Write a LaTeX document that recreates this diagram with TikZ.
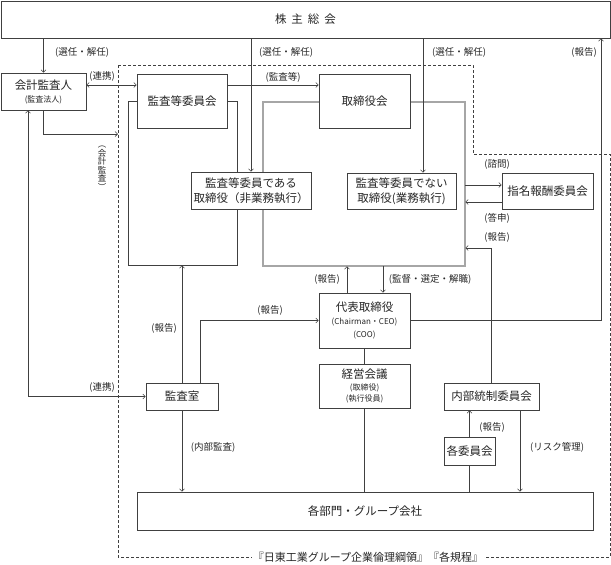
\documentclass[tikz,border=0pt]{standalone}
\usepackage{fontspec}
\setmainfont{Noto Sans CJK JP}
\usetikzlibrary{arrows.meta}

\newcommand{\smtxt}[1]{{\fontsize{8}{9}\selectfont #1}}

\begin{document}
\begin{tikzpicture}[
  x=1pt, y=-1pt,
  line width=0.6pt,
  every node/.style={font=\fontsize{11.5}{14}\selectfont, text=black!85},
  box/.style={draw=black!75, fill=white, align=center, inner sep=0pt},
  waku/.style={draw=black!75, inner sep=0pt},
  lbl/.style={font=\fontsize{9.5}{11}\selectfont, inner sep=1pt},
  conn/.style={draw=black!75},
  arr/.style={conn, -{Straight Barb[length=2.5pt,width=5pt]}},
  arrs/.style={conn, {Straight Barb[length=2.5pt,width=5pt]}-{Straight Barb[length=2.5pt,width=5pt]}}
]
\useasboundingbox (0,0) rectangle (611,565);

% outer dashed area
\draw[conn, dash pattern=on 3pt off 2pt] (118,65) -- (473,65) -- (473,154) -- (610,154)
  -- (610,557) -- (118,557) -- cycle;
\node[fill=white, inner sep=1pt, font=\fontsize{11}{13}\selectfont] (kitei) at (368,557)
  {『日東工業グループ企業倫理綱領』『各規程』};

% frames behind the boards
\node[waku, minimum width=109pt, minimum height=164pt] (iwaku) at (182.5,183) {};
\node[waku, draw=black!70, double=black!35, double distance=1.2pt,
  minimum width=202pt, minimum height=164pt] (twaku) at (364,184) {};

\node[box, minimum width=609pt, minimum height=37pt] (soukai) at (305.5,19.5)
  {株\hspace{5pt}主\hspace{5pt}総\hspace{5pt}会};
\node[box, minimum width=85pt, minimum height=37pt] (kaikei) at (43.5,91.5)
  {会計監査人\\[-1pt]\smtxt{(監査法人)}};
\node[box, minimum width=90pt, minimum height=54pt] (iinkai) at (182,101) {監査等委員会};
\node[box, minimum width=91pt, minimum height=54pt] (torishimari) at (364.5,101) {取締役会};
\node[box, minimum width=120pt, minimum height=37pt] (dokuritsu) at (251,190.5)
  {監査等委員である\\[1pt]取締役（非業務執行）};
\node[box, minimum width=109pt, minimum height=36pt] (gyomu) at (401.5,191)
  {監査等委員でない\\[1pt]取締役(業務執行)};
\node[box, minimum width=91pt, minimum height=36pt] (shimei) at (547.5,191) {指名報酬委員会};
\node[box, minimum width=91pt, minimum height=55pt] (daihyo) at (364.5,320.5)
  {代表取締役\\[-1pt]\smtxt{(Chairman・CEO)}\\[-1pt]\smtxt{(COO)}};
\node[box, minimum width=91pt, minimum height=44pt] (keiei) at (364.5,386)
  {経営会議\\[-2pt]\smtxt{(取締役)}\\[-3pt]\smtxt{(執行役員)}};
\node[box, minimum width=72pt, minimum height=27pt] (kansa) at (182,396.5) {監査室};
\node[box, minimum width=95pt, minimum height=27pt] (naibu) at (491.5,396.5) {内部統制委員会};
\node[box, minimum width=51pt, minimum height=28pt] (kaku) at (469.5,451) {各委員会};
\node[box, minimum width=456pt, minimum height=38pt] (bumon) at (365,511) {各部門・グループ会社};

% from the shareholders' meeting
\draw[arr] (soukai.south -| kaikei.north) -- (kaikei.north);
\draw[arr] (soukai.south -| dokuritsu.north) -- (dokuritsu.north);
\draw[arr] (soukai.south -| 423,0) -- (gyomu.north -| 423,0);
\draw[arr] (daihyo.east) -| (soukai.south -| 601,0);
\node[lbl] (l-sennin1) at (82,52) {(選任・解任)};
\node[lbl] (l-sennin2) at (286,52) {(選任・解任)};
\node[lbl] (l-sennin3) at (459,52) {(選任・解任)};
\node[lbl] (l-houkoku0) at (584,52) {(報告)};

% auditors
\draw[arrs] (kaikei.east |- 0,85) -- (iinkai.west |- 0,85);
\draw[arr] (iinkai.east |- 0,85) -- (torishimari.west |- 0,85);
\coordinate (kaikeiend) at (118,134);
\draw[arr] (kaikei.south) |- (kaikeiend);
\draw[arrs] (kaikei.south -| 28,0) |- (kansa.west);
\node[lbl] (l-renkei1) at (102,76) {(連携)};
\node[lbl] (l-kansatou) at (283,77) {(監査等)};
\node[lbl, align=center, font=\fontsize{8.5}{8.5}\selectfont] (l-kaikeikansa) at (102,168)
  {︵\\会\\計\\監\\査\\︶};
\node[lbl] (l-renkei2) at (102,387) {(連携)};

% audit office
\draw[arr] (kansa.north) -- (iwaku.south -| kansa.north);
\draw[arr] (kansa.north -| 200,0) |- (daihyo.west);
\draw[arr] (kansa.south) -- (kansa.south |- bumon.north);
\node[lbl] (l-houkoku1) at (164,328) {(報告)};
\node[lbl] (l-houkoku2) at (270,310) {(報告)};
\node[lbl] (l-naibukansa) at (213,447) {(内部監査)};

% board and executives
\draw[arr] (daihyo.north -| 347,0) -- (twaku.south -| 347,0);
\draw[arr] (twaku.south -| 383,0) -- (daihyo.north -| 383,0);
\draw[arr] (twaku.east |- 0,185) -- (shimei.west |- 0,185);
\draw[arr] (shimei.west |- 0,202) -- (twaku.east |- 0,202);
\draw[arr] (naibu.north) |- (twaku.east |- 0,248);
\node[lbl] (l-houkoku3) at (327,279) {(報告)};
\node[lbl] (l-kantoku) at (430,279) {(監督・選定・解職)};
\node[lbl] (l-shimon) at (497,164) {(諮問)};
\node[lbl] (l-toushin) at (497,218) {(答申)};
\node[lbl] (l-houkoku4) at (497,237) {(報告)};

\draw[conn] (daihyo.south) -- (keiei.north);
\draw[conn] (keiei.south) -- (keiei.south |- bumon.north);
\draw[conn] (bumon.north -| kaku.south) -- (kaku.south);
\draw[arr] (kaku.north) -- (kaku.north |- naibu.south);
\draw[arr] (naibu.south -| 520,0) -- (bumon.north -| 520,0);
\node[lbl] (l-houkoku5) at (492,427) {(報告)};
\node[lbl] (l-risk) at (557,447) {(リスク管理)};
\end{tikzpicture}
\end{document}
